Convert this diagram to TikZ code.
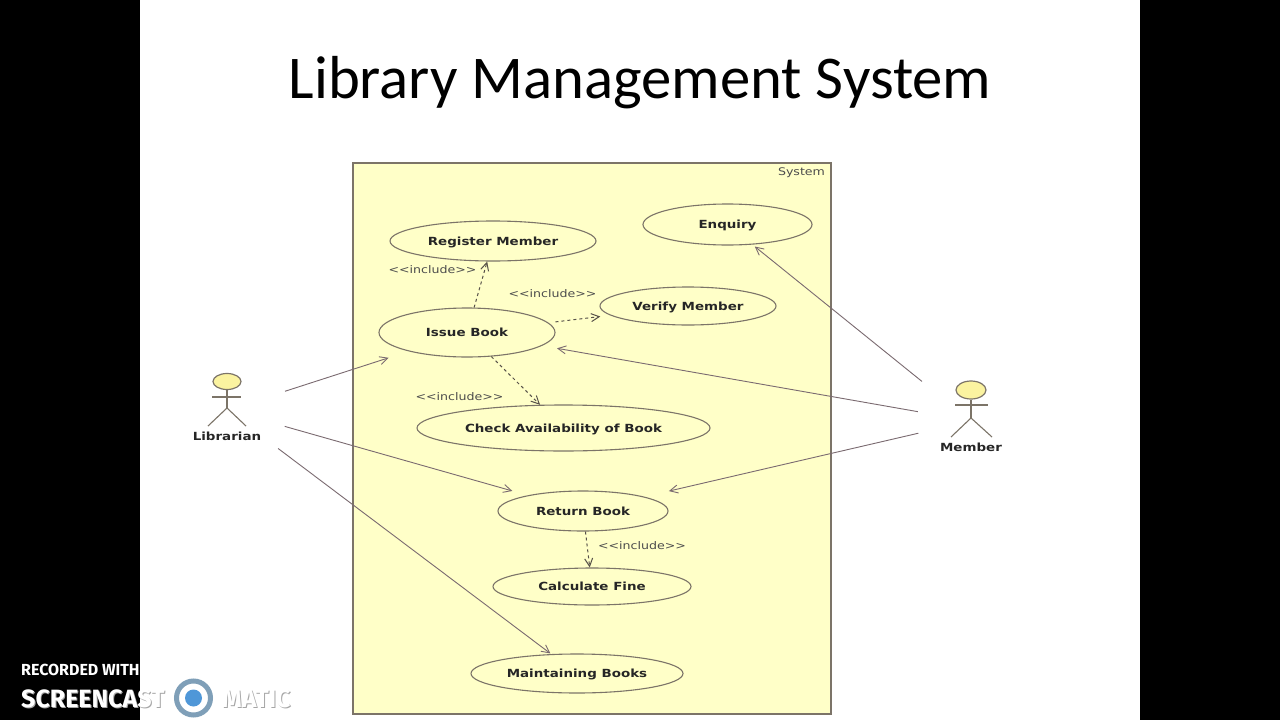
\documentclass[tikz,border=0pt]{standalone}
\usepackage{fontspec}
\setmainfont{Carlito}
\newfontfamily\umlfont[FakeStretch=1.2]{DejaVu Sans}
\newfontfamily\wmfont{Fira Sans}
\usetikzlibrary{arrows.meta,shapes.geometric}
\definecolor{umlfill}{HTML}{FFFFC8}
\definecolor{umlline}{HTML}{7C7468}
\definecolor{arrowline}{HTML}{7A6A70}
\definecolor{headfill}{HTML}{FBF3A0}
\definecolor{logoblue}{HTML}{4F97D8}
\definecolor{logoring}{HTML}{7F9FB8}
\tikzset{
  x=1pt,y=-1pt,
  usecase/.style={draw=umlline,line width=1.1pt,fill=umlfill,ellipse,inner sep=0pt,text height=8pt,text depth=0pt,font=\umlfont\bfseries\fontsize{11.2}{13}\selectfont,text=black!85},
  stick/.style={draw=umlline,line width=1.1pt},
  head/.style={draw=umlline,line width=1.2pt,fill=headfill,ellipse,inner sep=0pt},
  actorlabel/.style={font=\umlfont\bfseries\fontsize{11.2}{13}\selectfont,text=black!85,inner sep=0pt},
  incl/.style={font=\umlfont\fontsize{10.5}{12}\selectfont,text=black!70,inner sep=0pt},
  assoc/.style={draw=arrowline,line width=0.9pt,-{Straight Barb[length=8pt,width=8pt]}},
  dep/.style={draw=umlline!70!black,line width=1pt,dash pattern=on 3pt off 3pt,-{Straight Barb[length=8pt,width=8pt]}},
}
\begin{document}
\begin{tikzpicture}
\useasboundingbox (0,0) rectangle (1280,720);
\clip (0,0) rectangle (1280,720);
\fill[white] (0,0) rectangle (1280,720);
\fill[black] (0,0) rectangle (140,720);
\fill[black] (1140,0) rectangle (1280,720);
\node (title) at (640,98) [anchor=base,inner sep=0pt,font=\fontsize{60.7}{66}\selectfont,text=black] {Library Management System};
\node (system) at (592,438.5) [draw=umlline,line width=1.2pt,fill=umlfill,minimum width=478pt,minimum height=551pt,inner sep=0pt] {};
\node (systemlabel) at (801.5,173) [incl] {System};
% use cases
\node[usecase,minimum width=206pt,minimum height=40pt] (register) at (493,241) {Register Member};
\node[usecase,minimum width=169pt,minimum height=41pt] (enquiry) at (727.5,224.5) {Enquiry};
\node[usecase,minimum width=176pt,minimum height=38pt] (verify) at (688,306) {Verify Member};
\node[usecase,minimum width=176pt,minimum height=49pt] (issue) at (467,332.5) {Issue Book};
\node[usecase,minimum width=293pt,minimum height=46pt] (check) at (563.5,428) {Check Availability of Book};
\node[usecase,minimum width=170pt,minimum height=40pt] (return) at (583,511) {Return Book};
\node[usecase,minimum width=198pt,minimum height=37pt] (calc) at (592,586.5) {Calculate Fine};
\node[usecase,minimum width=212pt,minimum height=39pt] (maintain) at (577,673.5) {Maintaining Books};
% include labels
\node[incl] (inc1) at (432.5,270) {<<include>>};
\node[incl] (inc2) at (552.5,294) {<<include>>};
\node[incl] (inc3) at (459.5,397) {<<include>>};
\node[incl] (inc4) at (642,546) {<<include>>};
% actors
\node[head,minimum width=28pt,minimum height=16pt] (libhead) at (227,381.5) {};
\coordinate (libhip) at (227,408);
\coordinate (libc) at (227,410);
\coordinate (libarml) at (212,397);
\coordinate (libarmr) at (241,397);
\coordinate (libfootl) at (208,426);
\coordinate (libfootr) at (246,426);
\draw[stick] (libhead) -- (libhip);
\draw[stick] (libarml) -- (libarmr);
\draw[stick] (libfootl) -- (libhip) -- (libfootr);
\node[actorlabel] (librarian) at (227,436) {Librarian};
\node[head,minimum width=30pt,minimum height=18pt] (memhead) at (971,390) {};
\coordinate (memhip) at (971,418);
\coordinate (memc) at (971,421);
\coordinate (memarml) at (955,405);
\coordinate (memarmr) at (988,405);
\coordinate (memfootl) at (951,437);
\coordinate (memfootr) at (992,437);
\draw[stick] (memhead) -- (memhip);
\draw[stick] (memarml) -- (memarmr);
\draw[stick] (memfootl) -- (memhip) -- (memfootr);
\node[actorlabel] (member) at (971,447) {Member};
% include dependencies
\draw[dep] (issue) -- (register);
\draw[dep,shorten <=7pt,shorten >=10pt] (issue) -- (verify);
\draw[dep] (issue) -- (check);
\draw[dep] (return) -- (calc);
% associations
\draw[assoc,shorten <=61pt,shorten >=21pt] (libc) -- (issue);
\draw[assoc,shorten <=60pt,shorten >=16pt] (libc) -- (return);
\draw[assoc,shorten <=64pt,shorten >=1pt] (libc) -- (maintain);
\draw[assoc,shorten <=63pt,shorten >=3pt] (memc) -- (enquiry);
\draw[assoc,shorten <=54pt,shorten >=15pt] (memc) -- (issue);
\draw[assoc,shorten <=54pt,shorten >=25pt] (memc) -- (return);
% watermark
\node[inner sep=0pt,anchor=west,text=white,font=\wmfont\bfseries\fontsize{16}{18}\selectfont] (rec) at (21,670) {RECORDED WITH};
\node[inner sep=0pt,anchor=west,text=gray!70,font=\wmfont\bfseries\fontsize{25}{27}\selectfont] (scshadow) at (22,700) {SCREENCAST};
\node[inner sep=0pt,anchor=west,text=white,font=\wmfont\bfseries\fontsize{25}{27}\selectfont] (sc) at (21,699) {SCREENCAST};
\node[circle,draw=logoring,fill=white,line width=5pt,minimum size=34pt,inner sep=0pt] (logo) at (193.5,698) {};
\node[circle,fill=logoblue,minimum size=17pt,inner sep=0pt] (logodot) at (193.5,698) {};
\node[inner sep=0pt,anchor=west,text=gray!70,font=\wmfont\bfseries\fontsize{25}{27}\selectfont] (mashadow) at (223,700) {MATIC};
\node[inner sep=0pt,anchor=west,text=white,font=\wmfont\bfseries\fontsize{25}{27}\selectfont] (ma) at (222,699) {MATIC};
\end{tikzpicture}
\end{document}
